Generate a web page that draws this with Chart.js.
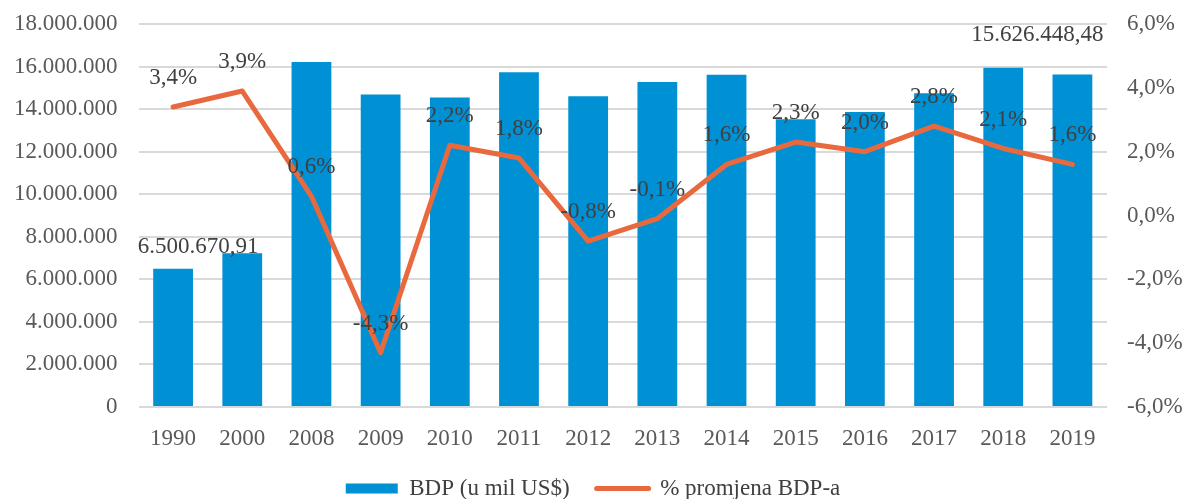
<!DOCTYPE html>
<html>
<head>
<meta charset="utf-8">
<script src="https://cdn.jsdelivr.net/npm/chart.js@4"></script>
<style>
  html, body { margin: 0; padding: 0; background: #fff; }
  #okvir { width: 1186px; height: 499px; }
</style>
</head>
<body>
<div id="okvir"><canvas id="myChart"></canvas></div>
<script>
// podaci
const godine = ['1990', '2000', '2008', '2009', '2010', '2011', '2012', '2013', '2014', '2015', '2016', '2017', '2018', '2019'];
const bdp = [6500670.91, 7220000, 16210000, 14690000, 14540000, 15730000, 14610000, 15270000, 15620000, 13520000, 13860000, 14740000, 15940000, 15626448.48];
const promjena = [3.4, 3.9, 0.6, -4.3, 2.2, 1.8, -0.8, -0.1, 1.6, 2.3, 2.0, 2.8, 2.1, 1.6];
const bdpOznake = { 0: '6.500.670,91', 13: '15.626.448,48' };

const plava = '#0090D4';
const narancasta = '#E9693E';
const font = '"Liberation Serif", "Times New Roman", serif';

function tisuce(v) {
  return Math.round(v).toString().replace(/\B(?=(\d{3})+(?!\d))/g, '.');
}
function postotak(v) {
  return v.toFixed(1).replace('.', ',') + '%';
}

// pomaci oznaka stupaca (kao na slici)
const pomakBdp = { 0: [25, -22], 13: [-35, -40] };

const oznakePlugin = {
  id: 'oznake',
  afterDatasetsDraw(chart) {
    const c = chart.ctx;
    c.save();
    c.font = '23px ' + font;
    c.fillStyle = '#404040';
    c.textAlign = 'center';
    c.textBaseline = 'middle';

    const stupci = chart.getDatasetMeta(0).data;
    Object.keys(bdpOznake).forEach(i => {
      const el = stupci[i];
      const p = pomakBdp[i];
      c.fillText(bdpOznake[i], el.x + p[0], el.y + p[1]);
    });

    const tocke = chart.getDatasetMeta(1).data;
    tocke.forEach((el, i) => {
      c.fillText(postotak(promjena[i]), el.x, el.y - 29);
    });
    c.restore();
  }
};

var ctx = document.getElementById('myChart').getContext('2d');
var chart = new Chart(ctx, {
  type: 'bar',
  data: {
    labels: godine,
    datasets: [
      {
        type: 'bar',
        label: 'BDP (u mil US$)',
        data: bdp,
        backgroundColor: plava,
        borderWidth: 0,
        categoryPercentage: 1,
        barPercentage: 0.575,
        yAxisID: 'y',
        order: 2
      },
      {
        type: 'line',
        label: '% promjena BDP-a',
        data: promjena,
        borderColor: narancasta,
        backgroundColor: narancasta,
        borderWidth: 5,
        borderJoinStyle: 'round',
        borderCapStyle: 'round',
        pointRadius: 0,
        tension: 0,
        yAxisID: 'y2',
        order: 1
      }
    ]
  },
  options: {
    responsive: true,
    maintainAspectRatio: false,
    animation: false,
    layout: { padding: { top: 24, left: 0, right: 0, bottom: 0 } },
    plugins: {
      tooltip: { enabled: false },
      legend: {
        position: 'bottom',
        maxHeight: 49,
        labels: {
          usePointStyle: true,
          boxWidth: 52,
          boxHeight: 10,
          pointStyleWidth: 52,
          padding: 27,
          color: '#404040',
          font: { family: font, size: 23 },
          generateLabels: () => [
            { text: 'BDP (u mil US$)', fillStyle: plava, strokeStyle: plava, lineWidth: 0, pointStyle: 'rect', datasetIndex: 0, fontColor: '#404040' },
            { text: '% promjena BDP-a', fillStyle: narancasta, strokeStyle: narancasta, lineWidth: 5, lineCap: 'round', pointStyle: 'line', datasetIndex: 1, fontColor: '#404040' }
          ]
        }
      }
    },
    scales: {
      x: {
        grid: { display: false },
        border: { display: false },
        ticks: { color: '#595959', padding: 10, font: { family: font, size: 23 }, maxRotation: 0 },
        afterFit: (s) => { s.height = 43; }
      },
      y: {
        position: 'left',
        min: 0,
        max: 18000000,
        grid: { color: '#D9D9D9', lineWidth: 2, drawTicks: false },
        border: { display: false },
        ticks: { stepSize: 2000000, color: '#595959', padding: 21, font: { family: font, size: 23 }, callback: (v) => tisuce(v) },
        afterFit: (s) => { s.width = 138.5; s.paddingTop = 0; s.paddingBottom = 0; }
      },
      y2: {
        position: 'right',
        min: -6,
        max: 6,
        grid: { display: false, drawTicks: false },
        border: { display: false },
        ticks: { stepSize: 2, color: '#595959', padding: 20, font: { family: font, size: 23 }, callback: (v) => postotak(v) },
        afterFit: (s) => { s.width = 79; s.paddingTop = 0; s.paddingBottom = 0; }
      }
    }
  },
  plugins: [oznakePlugin]
});
</script>
</body>
</html>
